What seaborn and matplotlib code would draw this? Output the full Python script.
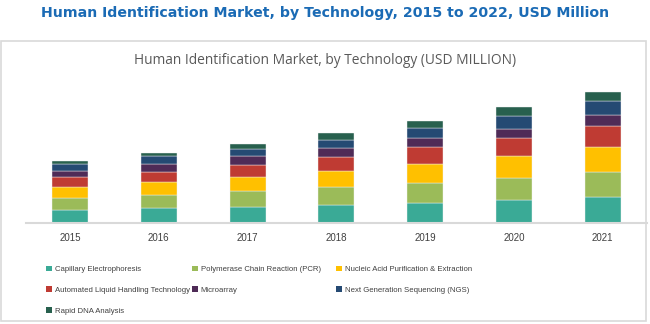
import matplotlib
matplotlib.use("Agg")
import matplotlib.pyplot as plt
from matplotlib.patches import Rectangle, Patch
import seaborn as sns
import pandas as pd

years = [2015, 2016, 2017, 2018, 2019, 2020, 2021]
technologies = [
    "Capillary Electrophoresis",
    "Polymerase Chain Reaction (PCR)",
    "Nucleic Acid Purification & Extraction",
    "Automated Liquid Handling Technology",
    "Microarray",
    "Next Generation Sequencing (NGS)",
    "Rapid DNA Analysis",
]
capillary = [12.7, 15.0, 16.0, 17.7, 20.0, 23.0, 25.7]
pcr = [12.3, 13.3, 15.7, 18.3, 20.0, 21.7, 25.3]
nucleic = [11.0, 12.3, 14.3, 16.3, 19.0, 22.7, 24.7]
automated = [9.7, 10.3, 11.7, 13.3, 16.7, 17.7, 21.0]
microarray = [6.0, 8.0, 9.0, 9.3, 9.3, 9.0, 11.7]
ngs = [7.7, 7.7, 7.3, 8.3, 10.0, 13.3, 13.3]
rapid = [2.3, 3.0, 4.7, 7.0, 6.7, 8.3, 9.3]
colors = ["#3aaa96", "#9bbb59", "#ffc000", "#bf3b33", "#4f2b57", "#254a73", "#28604e"]

series = [capillary, pcr, nucleic, automated, microarray, ngs, rapid]
rows = []
for tech, vals in zip(technologies, series):
    for y, v in zip(years, vals):
        rows.append({"year": y, "tech": tech, "value": v})
df = pd.DataFrame(rows)

sns.set_style("white")
fig = plt.figure(figsize=(6.5, 3.24), dpi=100)
W, H = 650, 324

# outer light border box
fig.patches.append(Rectangle((1 / W, 1 - 321 / H), 645 / W, 280 / H, transform=fig.transFigure,
                             fill=False, edgecolor="#d9d9d9", linewidth=1.2))

ax = fig.add_axes([25.6 / W, 1 - 223 / H, 621.4 / W, 140 / H])
palette = dict(zip(technologies, colors))
sns.histplot(data=df, x="year", weights="value", hue="tech",
             hue_order=technologies[::-1], multiple="stack", discrete=True,
             shrink=0.405, palette=palette, alpha=1, edgecolor="#f2f2f2",
             linewidth=0.3, legend=False, ax=ax)
ax.set_xlim(2014.5, 2021.5)
ax.set_ylim(0, 140)
ax.set_xticks(years)
ax.set_xticklabels([str(y) for y in years], fontsize=7, color="#404040",
                   family=["Liberation Sans", "DejaVu Sans"])
ax.tick_params(axis="x", length=0, pad=7.5)
ax.set_yticks([])
ax.set_xlabel("")
ax.set_ylabel("")
for s in ["left", "right", "top"]:
    ax.spines[s].set_visible(False)
ax.spines["bottom"].set_color("#d9d9d9")
ax.spines["bottom"].set_linewidth(1.5)

fig.text(0.5, 1 - 13 / H, "Human Identification Market, by Technology, 2015 to 2022, USD Million",
         ha="center", va="center", fontsize=10.2, fontweight="bold", color="#1b6bb5",
         family=["DejaVu Sans"])
fig.text(0.5, 1 - 61 / H, "Human Identification Market, by Technology (USD MILLION)",
         ha="center", va="center", fontsize=9.9, color="#595959", family=["Open Sans", "DejaVu Sans"])

# legend in three columns
cols = [[0, 3, 6], [1, 4], [2, 5]]
xs = [46, 192, 336]
for idx, x in zip(cols, xs):
    handles = [Patch(facecolor=colors[i], edgecolor="none", label=technologies[i]) for i in idx]
    fig.legend(handles=handles, loc="upper left", bbox_to_anchor=(x / W, 1 - 265.5 / H),
               frameon=False, borderpad=0, borderaxespad=0, handlelength=0.8, handleheight=0.8,
               handletextpad=0.3, labelspacing=1.7,
               prop={"family": ["Liberation Sans", "DejaVu Sans"], "size": 5.6},
               labelcolor="#404040")

fig.savefig("out.png", dpi=100)
